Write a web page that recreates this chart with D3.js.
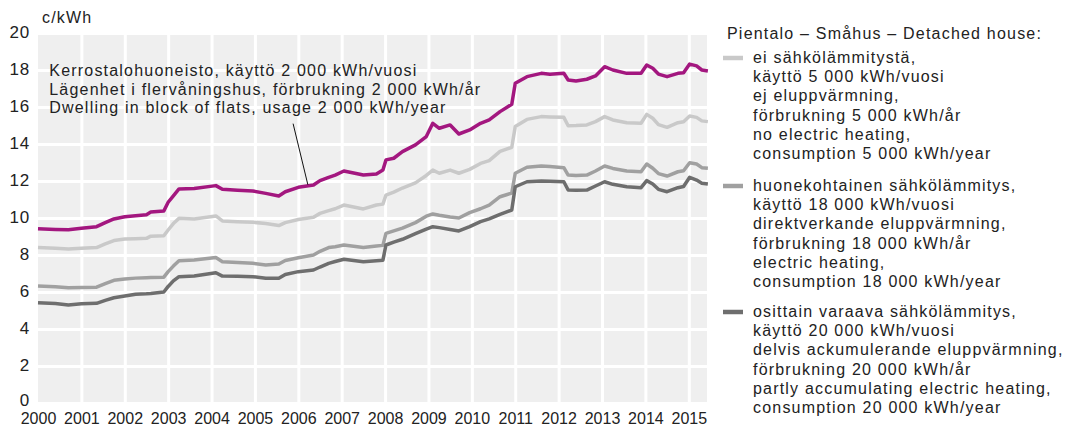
<!DOCTYPE html>
<html>
<head>
<meta charset="utf-8">
<script src="https://cdn.jsdelivr.net/npm/d3@7"></script>
<style>
  body { margin: 0; background: #fff; }
  svg text { font-family: "Liberation Sans", Arial, sans-serif; fill: #222; }
  .label { font-size: 16px; letter-spacing: 1.2px; }
</style>
</head>
<body>
<div id="chart"></div>
<script>
// decimal years, shared by all four series
const dates = [
  2000.0, 2000.4, 2000.7, 2001.0, 2001.35, 2001.55, 2001.75, 2002.0, 2002.25, 2002.5,
  2002.6, 2002.9, 2003.0, 2003.12, 2003.25, 2003.6, 2004.1, 2004.25, 2004.6, 2004.95,
  2005.25, 2005.55, 2005.7, 2006.0, 2006.35, 2006.5, 2006.7, 2006.85, 2007.05, 2007.5,
  2007.8, 2007.95, 2008.02, 2008.2, 2008.4, 2008.7, 2008.95, 2009.1, 2009.25, 2009.5,
  2009.7, 2009.95, 2010.2, 2010.4, 2010.65, 2010.92, 2011.0, 2011.27, 2011.6, 2011.8,
  2012.12, 2012.22, 2012.4, 2012.65, 2012.85, 2013.06, 2013.25, 2013.57, 2013.9, 2014.03,
  2014.17, 2014.3, 2014.5, 2014.75, 2014.88, 2015.02, 2015.18, 2015.3, 2015.44
];

const flat = [
  9.42, 9.38, 9.36, 9.44, 9.53, 9.75, 9.95, 10.07, 10.12, 10.18,
  10.32, 10.38, 10.85, 11.2, 11.57, 11.6, 11.75, 11.55, 11.5, 11.46,
  11.33, 11.19, 11.42, 11.66, 11.78, 12.02, 12.2, 12.32, 12.54, 12.32,
  12.38, 12.59, 13.14, 13.23, 13.59, 13.95, 14.4, 15.12, 14.85, 15.03,
  14.54, 14.76, 15.12, 15.3, 15.75, 16.15, 17.28, 17.64, 17.82, 17.77,
  17.82, 17.46, 17.4, 17.5, 17.68, 18.18, 18.0, 17.82, 17.82, 18.27,
  18.09, 17.78, 17.64, 17.82, 17.85, 18.32, 18.22, 18.0, 17.95
];

const noHeating = [
  8.41, 8.36, 8.32, 8.36, 8.4, 8.6, 8.78, 8.86, 8.88, 8.9,
  9.02, 9.04, 9.35, 9.7, 9.98, 9.95, 10.11, 9.84, 9.8, 9.77,
  9.7, 9.59, 9.75, 9.92, 10.04, 10.25, 10.4, 10.5, 10.7, 10.49,
  10.7, 10.75, 11.24, 11.4, 11.62, 11.9, 12.3, 12.59, 12.42, 12.59,
  12.42, 12.63, 12.95, 13.1, 13.6, 13.82, 14.94, 15.33, 15.48, 15.46,
  15.44, 14.99, 15.0, 15.03, 15.21, 15.48, 15.3, 15.15, 15.12, 15.6,
  15.39, 15.05, 14.9, 15.15, 15.2, 15.51, 15.44, 15.25, 15.21
];

const directHeating = [
  6.32, 6.28, 6.23, 6.24, 6.26, 6.45, 6.63, 6.7, 6.75, 6.77,
  6.78, 6.8, 7.1, 7.4, 7.69, 7.73, 7.86, 7.64, 7.6, 7.55,
  7.46, 7.51, 7.7, 7.85, 8.0, 8.2, 8.4, 8.45, 8.54, 8.41,
  8.49, 8.52, 9.17, 9.3, 9.45, 9.75, 10.1, 10.22, 10.15, 10.05,
  10.0, 10.29, 10.5, 10.7, 11.15, 11.35, 12.42, 12.74, 12.81, 12.78,
  12.72, 12.32, 12.3, 12.32, 12.54, 12.81, 12.68, 12.54, 12.5, 12.92,
  12.69, 12.4, 12.27, 12.5, 12.55, 12.99, 12.92, 12.72, 12.69
];

const partlyAccumulating = [
  5.42, 5.38, 5.3, 5.36, 5.39, 5.55, 5.69, 5.78, 5.88, 5.9,
  5.92, 6.0, 6.3, 6.6, 6.83, 6.86, 7.04, 6.86, 6.85, 6.83,
  6.74, 6.74, 6.95, 7.1, 7.19, 7.35, 7.55, 7.65, 7.77, 7.64,
  7.69, 7.72, 8.54, 8.7, 8.85, 9.15, 9.4, 9.53, 9.48, 9.38,
  9.3, 9.53, 9.8, 9.95, 10.2, 10.43, 11.69, 11.96, 12.0, 11.98,
  11.96, 11.51, 11.5, 11.51, 11.73, 11.96, 11.82, 11.69, 11.64, 12.02,
  11.84, 11.55, 11.42, 11.64, 11.7, 12.2, 12.05, 11.88, 11.84
];

const yTicks = [0, 2, 4, 6, 8, 10, 12, 14, 16, 18, 20];
const xTicks = d3.range(2000, 2016);

const flatLabel = [
  "Kerrostalohuoneisto, käyttö 2 000 kWh/vuosi",
  "Lägenhet i flervåningshus, förbrukning 2 000 kWh/år",
  "Dwelling in block of flats, usage 2 000 kWh/year"
];
const legendTitle = "Pientalo – Småhus – Detached house:";
const legendLabels = [
  ["ei sähkölämmitystä,", "käyttö 5 000 kWh/vuosi", "ej eluppvärmning,", "förbrukning 5 000 kWh/år", "no electric heating,", "consumption 5 000 kWh/year"],
  ["huonekohtainen sähkölämmitys,", "käyttö 18 000 kWh/vuosi", "direktverkande eluppvärmning,", "förbrukning 18 000 kWh/år", "electric heating,", "consumption 18 000 kWh/year"],
  ["osittain varaava sähkölämmitys,", "käyttö 20 000 kWh/vuosi", "delvis ackumulerande eluppvärmning,", "förbrukning 20 000 kWh/år", "partly accumulating electric heating,", "consumption 20 000 kWh/year"]
];

const width = 1074, height = 429;
const margin = { top: 33, left: 38, bottom: 26, right: 367 };

const svg = d3.select("#chart").append("svg")
  .attr("width", width)
  .attr("height", height);

const x = d3.scaleLinear().domain([2000, 2015.42]).range([margin.left, width - margin.right]);
const y = d3.scaleLinear().domain([0, 20]).range([height - margin.bottom, margin.top]);

// plot background
svg.append("rect")
  .attr("x", x.range()[0]).attr("y", y(20))
  .attr("width", x.range()[1] - x.range()[0])
  .attr("height", y(0) - y(20))
  .attr("fill", "#efefef");

// white grid
const yAxis = svg.append("g")
  .attr("transform", `translate(${margin.left},0)`)
  .call(d3.axisLeft(y).tickValues(yTicks).tickSize(-(x.range()[1] - x.range()[0])).tickPadding(8));
yAxis.select(".domain").remove();
yAxis.selectAll(".tick line").attr("stroke", "#fff").attr("stroke-width", 3);
yAxis.selectAll(".tick text").attr("font-size", 17).attr("letter-spacing", "0.8px")
  .attr("dy", d => d === 0 ? "0.15em" : "0.25em");

const xAxis = svg.append("g")
  .attr("transform", `translate(0,${y(0)})`)
  .call(d3.axisBottom(x).tickValues(xTicks).tickFormat(d3.format("d")).tickSize(-(y(0) - y(20))).tickPadding(8));
xAxis.select(".domain").remove();
xAxis.selectAll(".tick line").attr("stroke", "#fff").attr("stroke-width", 3);
xAxis.selectAll(".tick text").attr("font-size", 16).attr("dy", "0.8em");
xAxis.selectAll(".tick").filter(d => d === 2000).select("line").remove();

svg.append("text")
  .attr("class", "label")
  .attr("x", 42).attr("y", 23)
  .text("c/kWh");

const series = [
  { values: noHeating, color: "#c9c9c9" },
  { values: directHeating, color: "#a0a0a0" },
  { values: partlyAccumulating, color: "#6e6e6e" },
  { values: flat, color: "#a3177f" }
];

const line = d3.line()
  .x((d, i) => x(dates[i]))
  .y(d => y(d));

svg.selectAll("path.series")
  .data(series)
  .join("path")
  .attr("class", "series")
  .attr("d", d => line(d.values))
  .attr("fill", "none")
  .attr("stroke", d => d.color)
  .attr("stroke-width", 3.5)
  .attr("stroke-linejoin", "round");

// callout for the flat series
svg.append("line")
  .attr("x1", x(2005.88)).attr("y1", y(15.1))
  .attr("x2", x(2006.22)).attr("y2", y(11.8))
  .attr("stroke", "#111")
  .attr("stroke-width", 1);

svg.append("text")
  .attr("class", "label")
  .attr("x", x(2000.26))
  .attr("y", 76)
  .selectAll("tspan")
  .data(flatLabel)
  .join("tspan")
  .attr("x", x(2000.26))
  .attr("dy", (d, i) => i === 0 ? 0 : 18.5)
  .text(d => d);

// legend
const legend = svg.append("g");
legend.append("text")
  .attr("class", "label")
  .attr("x", 727).attr("y", 39)
  .text(legendTitle);

const entryTops = [63, 191, 317];
legendLabels.forEach((lines, k) => {
  legend.append("line")
    .attr("x1", 723).attr("x2", 743)
    .attr("y1", entryTops[k] - 5).attr("y2", entryTops[k] - 5)
    .attr("stroke", series[k].color)
    .attr("stroke-width", 4.5);
  legend.append("text")
    .attr("class", "label")
    .attr("y", entryTops[k])
    .selectAll("tspan")
    .data(lines)
    .join("tspan")
    .attr("x", 753)
    .attr("dy", (d, i) => i === 0 ? 0 : 19.2)
    .text(d => d);
});
</script>
</body>
</html>
